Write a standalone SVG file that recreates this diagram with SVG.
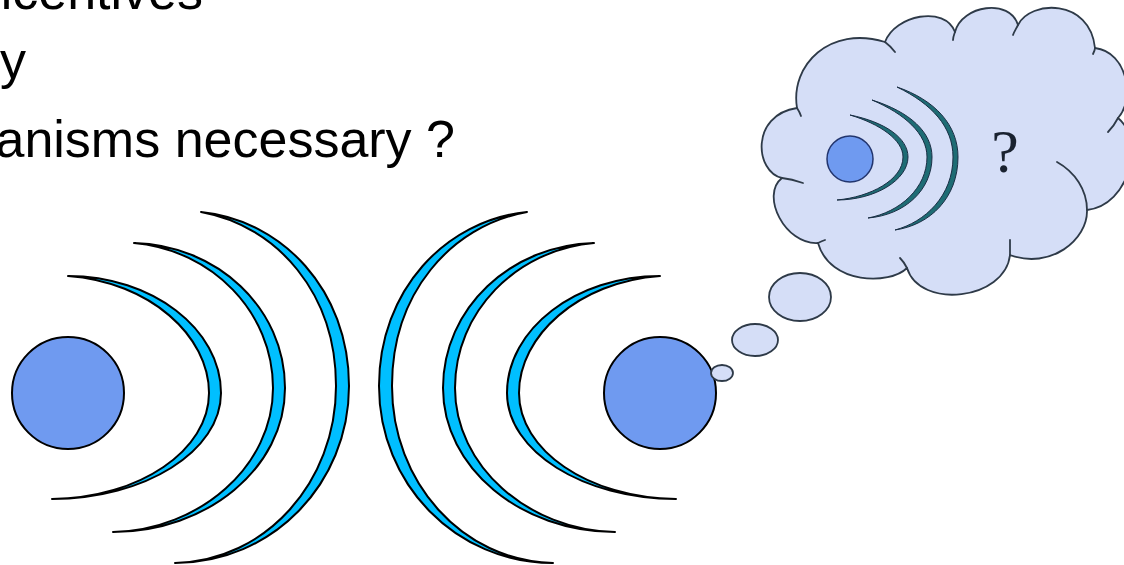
<svg xmlns="http://www.w3.org/2000/svg" xmlns:xlink="http://www.w3.org/1999/xlink" width="1124" height="565" viewBox="0 0 1124 565">
  <style>
    .body { font-family: "Liberation Sans", Arial, sans-serif; font-size: 52px; fill: #000; }
    .wave { fill: #00BFFF; stroke: #000; stroke-width: 2; stroke-linejoin: round; }
    .node { fill: #6F9AF0; stroke: #000; stroke-width: 2; }
    .cloud { fill: #D5DEF7; stroke: #2E3A48; stroke-width: 1.8; stroke-linejoin: round; }
    .tail { fill: none; stroke: #2E3A48; stroke-width: 1.8; stroke-linecap: round; }
    .mini-wave { fill: #1E6C74; stroke: #1A2E44; stroke-width: 1; }
    .mini-node { fill: #6F9AF0; stroke: #22356E; stroke-width: 1.5; }
    .qmark { font-family: "Liberation Serif", "Times New Roman", serif; font-size: 62px; fill: #1A2230; }
  </style>
  <defs>
    <!-- wave crescents emitted to the right; mirrored for the right-hand sender -->
    <path id="w1" class="wave" d="M68,276 C152,276 221,329 221,393 C221,451 145,499 52,499 C140,498 209,450 209,393 C209,336 150,282 68,276 Z"/>
    <path id="w2" class="wave" d="M134,243 C217,245 285,308 285,388 C285,468 207,532 113,532 C200,530 273,466 273,388 C273,312 212,250 134,243 Z"/>
    <path id="w3" class="wave" d="M201,212 C282,220 349,290 349,386 C349,484 272,563 175,563 C266,561 336,482 336,386 C336,294 278,226 201,212 Z"/>
  </defs>

  <!-- bullet text, clipped at the slide edge -->
  <g id="text">
    <text class="body" x="203" y="9" text-anchor="end">ncentives</text>
    <text class="body" x="0" y="78">y</text>
    <text class="body" x="455" y="157" text-anchor="end">anisms necessary ?</text>
  </g>

  <g id="left-node">
    <circle class="node" cx="68" cy="393" r="56"/>
  </g>

  <g id="right-node">
    <circle class="node" cx="660" cy="393" r="56"/>
  </g>

  <g id="connectors">
    <use xlink:href="#w1"/>
    <use xlink:href="#w2"/>
    <use xlink:href="#w3"/>
    <g transform="translate(728,0) scale(-1,1)">
      <use xlink:href="#w1"/>
      <use xlink:href="#w2"/>
      <use xlink:href="#w3"/>
    </g>
  </g>

  <g id="thought">
    <!-- trail of bubbles -->
    <ellipse class="cloud" cx="800" cy="297" rx="31" ry="24"/>
    <ellipse class="cloud" cx="755" cy="340" rx="23" ry="16"/>
    <ellipse class="cloud" cx="722" cy="373" rx="11" ry="8"/>

    <!-- cloud outline -->
    <path class="cloud" d="M782,178
      C755,172 750,115 797,108
      C790,65 830,25 885,42
      C895,15 945,5 955,32
      C962,5 1010,-2 1018,25
      C1030,0 1090,-2 1095,48
      C1128,52 1135,100 1118,118
      C1145,140 1130,205 1087,210
      C1088,240 1050,270 1010,255
      C1005,300 920,310 907,268
      C890,285 830,285 818,243
      C785,245 760,195 782,178 Z"/>
    <!-- inner curls where the lobes meet -->
    <path class="tail" d="M797,108 C799,111 800,113 801,116"/>
    <path class="tail" d="M885,42 C889,45 892,48 895,52"/>
    <path class="tail" d="M955,32 C954,35 953,37 953,40"/>
    <path class="tail" d="M1018,25 C1016,29 1014,32 1013,35"/>
    <path class="tail" d="M1095,48 C1095,50 1094,52 1093,54"/>
    <path class="tail" d="M1118,118 C1115,124 1112,128 1108,132"/>
    <path class="tail" d="M1087,210 C1087,190 1075,172 1057,162"/>
    <path class="tail" d="M1010,255 C1010,250 1010,245 1010,240"/>
    <path class="tail" d="M907,268 C905,264 903,261 900,258"/>
    <path class="tail" d="M818,243 C820,242 822,241 825,240"/>
    <path class="tail" d="M782,178 C790,179 797,181 803,183"/>

    <!-- small sender with its waves -->
    <circle class="mini-node" cx="850" cy="159" r="23"/>
    <path class="mini-wave" d="M850,115 C885,122 908,138 908,157 C908,180 875,200 837,200 C870,197 903,180 903,157 C903,140 880,124 850,115 Z"/>
    <path class="mini-wave" d="M872,100 C910,112 932,132 932,157 C932,190 905,215 868,218 C900,212 927,188 927,157 C927,134 905,114 872,100 Z"/>
    <path class="mini-wave" d="M897,87 C935,100 958,125 958,157 C958,198 930,225 895,230 C925,222 953,196 953,157 C953,127 932,104 897,87 Z"/>
    <text class="qmark" x="1005" y="172" text-anchor="middle">?</text>
  </g>
</svg>
